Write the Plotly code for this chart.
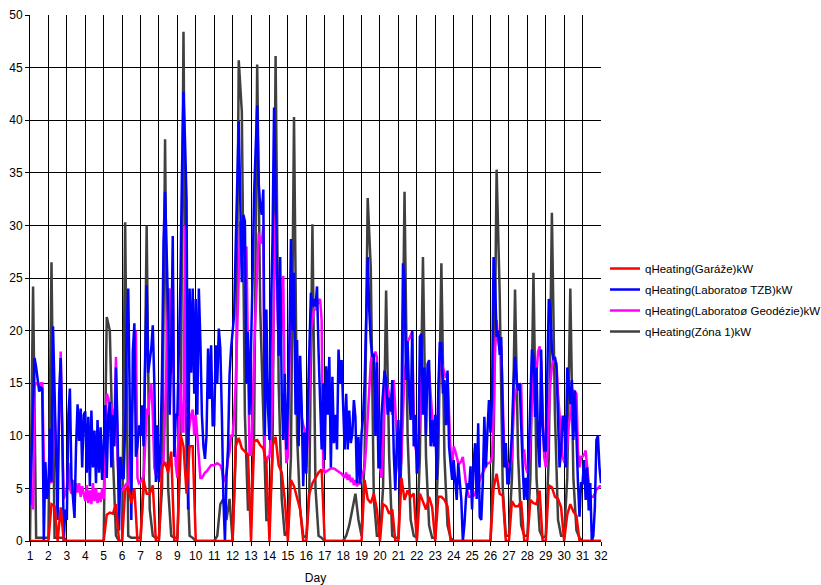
import plotly.graph_objects as go

# Garáže and Zóna 1: samples every 4 hours (6 per day), day 1.0 .. 32.0
garaze = [
    0, 0, 0, 0, 0, 0,                 # d1
    0, 3.5, 3.3, 0, 3.2, 0,           # d2
    0, 0, 0, 0, 0, 0,                 # d3
    0, 0, 0, 0, 0, 0,                 # d4
    0, 2.5, 2.7, 2.6, 3.5, 0,         # d5
    0, 4.8, 5.2, 3.6, 5, 0,           # d6
    0, 5.8, 4.5, 4.5, 5.3, 0,         # d7
    0, 7, 7.5, 6.5, 8.5, 0,           # d8
    0, 10.2, 9, 4.5, 9, 9,            # d9
    0, 0, 0, 0, 0, 0,                 # d10
    0, 0, 0, 0, 0, 0,                 # d11
    0, 9, 9.8, 8.8, 8.5, 8.2,         # d12
    0, 9.5, 9.6, 9.1, 8.8, 7.4,       # d13
    0, 9, 9.9, 7.2, 6.5, 3.9,         # d14
    0, 5.8, 5.2, 4.1, 3, 0,           # d15
    0, 4.5, 5.5, 6, 6.5, 6.8,         # d16
    0, 0, 0, 0, 0, 0,                 # d17
    0, 0, 0, 0, 0, 0,                 # d18
    0, 5.8, 4, 3.6, 4.5, 3,           # d19
    0, 3.5, 3.3, 2.6, 3, 0,           # d20
    0, 6, 3.9, 4.8, 4.2, 4.5,         # d21
    0, 4.5, 3.8, 3, 4.2, 3.2,         # d22
    0, 4.2, 4.2, 3.9, 3.3, 0,         # d23
    0, 0, 0, 0, 0, 0,                 # d24
    0, 0, 0, 0, 0, 0,                 # d25
    0, 5, 6.4, 4.5, 4.3, 0,           # d26
    0, 3.8, 3.3, 3.3, 3.8, 0,         # d27
    0, 3.9, 3.6, 3.5, 4.8, 0,         # d28
    0, 5.3, 5.1, 4.2, 4, 3.2,         # d29
    0, 2.5, 3.5, 2.8, 2.4, 0,         # d30
    0, 0, 0, 0, 0, 0,                 # d31
    0,                                # d32
]

zona1 = [
    0, 24.2, 0.3, 0.3, 0.3, 0.3,      # d1
    0.3, 26.5, 0.3, 0.3, 0.3, 0.3,    # d2
    0, 0, 0, 0, 0, 0,                 # d3
    0, 0, 0, 0, 0, 0,                 # d4
    0, 21.3, 20, 8, 0.5, 0,           # d5
    0, 30.3, 0.5, 0.3, 0.3, 0.3,      # d6
    0.3, 5, 30, 3, 0.5, 0.3,          # d7
    0.3, 5, 38.2, 5, 0.5, 0.3,        # d8
    0.3, 8, 48.4, 8, 0.5, 0.3,        # d9
    0, 0, 0, 0, 0, 0,                 # d10
    0, 0.5, 3.5, 4, 2, 4,             # d11
    0, 8, 45.7, 40.8, 12, 3,          # d12
    3, 10, 45.3, 22, 12, 2,           # d13
    2, 8, 46.1, 15, 4, 0.5,           # d14
    1, 8, 40.3, 10, 3, 0.5,           # d15
    0.3, 5, 30.1, 5, 0.5, 0.3,        # d16
    0, 0, 0, 0, 0, 0,                 # d17
    0, 0.5, 1.5, 3, 4.5, 2,           # d18
    0.5, 8, 32.6, 26, 4, 0.5,         # d19
    0.5, 5, 23.8, 8, 0.5, 0.3,        # d20
    0.3, 8, 33.2, 10, 2, 0.5,         # d21
    0.3, 8, 27, 8, 1.5, 0.3,          # d22
    0.3, 8, 26.4, 8, 1.5, 0.3,        # d23
    0, 0, 0, 0, 0, 0,                 # d24
    0, 0, 0, 0, 0, 0,                 # d25
    0, 8, 35.3, 23.5, 5, 0.5,         # d26
    0.5, 6, 23.9, 8, 1.5, 0.5,        # d27
    0.5, 6, 25.5, 6, 1, 0.3,          # d28
    0.5, 8, 31.2, 12, 2, 0.5,         # d29
    0.5, 6, 24, 6, 1, 0.3,            # d30
    0, 0, 0, 0, 0, 0,                 # d31
    0,                                # d32
]

# Laboratoø TZB and Geodézie: samples every 2 hours (12 per day)
tzb = [
    3.4, 8, 14, 17.4, 16.5, 15.4, 14.2, 14.6, 14.5, 0, 7.5, 4,           # d1
    5, 10.7, 5.6, 20.4, 14, 7, 2, 14, 17.4, 11, 0, 3,                    # d2
    2, 12, 14.5, 6, 4, 2.2, 9, 13, 9.5, 12.6, 7, 12,                     # d3
    12.3, 6.5, 11.8, 5.2, 12.4, 7, 10.5, 5.5, 11.5, 6.5, 10.8, 5.8,      # d4
    9, 12.9, 6, 12, 13.2, 7, 12, 9, 16.5, 11, 1, 8,                      # d5
    6, 5.9, 11, 20, 24, 14.7, 2, 18, 20.7, 8, 9, 11,                     # d6
    10, 12.9, 9, 16.7, 24.3, 16, 17, 18.3, 20.5, 15, 5.6, 11,            # d7
    5.6, 9, 15.8, 28.5, 33.2, 28, 22, 12, 18, 29, 8, 12,                 # d8
    12, 18.3, 24.6, 35, 42.7, 38, 32.4, 3, 24, 16, 24, 14,               # d9
    23, 12, 24, 19, 12, 9, 7.8, 10, 18.3, 13.5, 18.6, 11,                # d10
    11, 18.6, 15, 20.2, 18.3, 12, 4, 0, 6, 8.8, 15.8, 18.3,              # d11
    20, 21.5, 28, 35, 39.9, 32.3, 24.6, 31, 30.4, 15, 19.9, 12,          # d12
    18, 25, 33, 38, 41.4, 34, 31.8, 31, 33.4, 10, 22, 12.8,              # d13
    9.6, 22.3, 28.7, 41.2, 33, 25, 17.6, 27, 14, 9.6, 15.9, 8.7,         # d14
    12.8, 19.1, 28.7, 20, 25.5, 12, 19.1, 9, 17.6, 12.8, 5.2, 10.3,      # d15
    6.4, 12.8, 19.8, 23.6, 22.3, 23, 22.3, 24.2, 18, 13.4, 8.7, 15,      # d16
    7.7, 16.6, 12, 17.5, 7, 15.6, 9.3, 12, 8.7, 18.2, 15, 17.2,          # d17
    12.4, 8.7, 14, 8.7, 12.4, 9.3, 10.2, 13.4, 11.8, 5.5, 9.9, 5.5,      # d18
    10.2, 11.8, 15, 20, 27, 22, 19, 17.5, 17.8, 10, 17, 7,               # d19
    7, 12, 14, 16.2, 15.3, 12, 13.6, 12.3, 15.3, 8.3, 4.8, 9.5,          # d20
    11.5, 4.2, 12, 26.4, 24.8, 15.3, 19, 14, 11.5, 20, 9, 12,            # d21
    6.4, 7.3, 19.4, 19.7, 12, 16.5, 10, 16.8, 17.2, 9, 11.5, 9,          # d22
    12, 5.8, 14.3, 18.8, 18.8, 14, 15.3, 11, 16.2, 9, 7.4, 5.8,          # d23
    7.7, 5.5, 3.9, 7.4, 5.5, 3.9, 0, 1.5, 4, 5.5, 4.9, 7.1,              # d24
    3, 7.4, 9.3, 4, 11.2, 2.3, 2, 5.5, 11.8, 7, 10.3, 13.4,              # d25
    10.3, 13.4, 27, 24.5, 19.4, 20, 17.7, 19.4, 11.8, 7, 9.3, 5.5,       # d26
    5.5, 8, 10.3, 15, 17.5, 15.3, 14.3, 15, 9.9, 7, 3.9, 6,              # d27
    3.9, 8.6, 15, 18.2, 17.5, 11.8, 16.5, 9.3, 7, 18.2, 11, 8.6,         # d28
    8.6, 15, 23, 22.3, 18.2, 17.2, 17.5, 16.5, 11.8, 7, 8.6, 11.8,       # d29
    11.8, 7, 16.5, 14.3, 13, 15.3, 9.6, 14.3, 8.7, 5.5, 2.3, 5.5,        # d30
    5.5, 7.7, 3.9, 7, 2.9, 5.5, 0, 0.5, 3.2, 9.6, 10, 7,                 # d31
    5.5,                                                                 # d32
]

geodezie = [
    6.2, 3.5, 3, 14.7, 15, 15, 14.8, 15, 15, 8, 5.2, 4.5,                # d1
    5, 6, 5.5, 16.2, 12.5, 8, 6, 12, 18, 10, 4, 4.5,                     # d2
    5, 7.4, 5, 4.5, 5.8, 4, 5.5, 4.6, 5.5, 4.2, 5.2, 4.5,                # d3
    3.8, 5.3, 3.6, 4.8, 3.5, 5.5, 3.8, 5, 3.6, 4.6, 3.7, 5,              # d4
    4, 10, 14, 13.6, 13, 12.9, 12, 11.3, 17.5, 8, 5, 4.8,                # d5
    4.8, 5, 5.2, 5.5, 5.2, 8, 12, 14, 18, 20, 6, 5.5,                    # d6
    5.6, 6, 6.2, 9, 12.6, 12, 14, 15, 12, 7, 6.3, 6,                     # d7
    6, 6.2, 7, 7.5, 12, 18, 23.7, 24, 16, 26, 10, 7.2,                   # d8
    6, 12, 15, 10.4, 10.4, 30, 14, 10, 11, 12, 12.5, 10,                 # d9
    12, 10, 7.2, 6, 6, 6.3, 6.5, 6.6, 6.8, 7, 7.2, 7.2,                  # d10
    7.2, 7.3, 7.4, 7.3, 7.2, 6.8, 5.6, 6, 6.5, 7.8, 8.5, 10,             # d11
    10, 12, 15, 20, 25, 30.4, 28, 26.5, 27, 28, 18, 8.2,                 # d12
    8.2, 12, 18, 22, 26, 29.3, 28.5, 28.3, 30, 8, 7.4, 8,                # d13
    8, 10, 15, 24, 31.2, 25, 18, 17.6, 22, 25.2, 12, 7.4,                # d14
    8, 15, 24.9, 22.3, 20, 18, 17.6, 15, 13, 11.8, 11, 10.6,             # d15
    7, 10, 14, 20, 21, 22, 22, 22.5, 22.8, 23, 21, 7,                    # d16
    6.5, 6.6, 6.7, 6.8, 6.9, 6.9, 6.9, 6.8, 6.7, 6.6, 6.5, 6.4,          # d17
    6.2, 6, 6.5, 5.8, 6.3, 5.6, 6, 5.3, 5.8, 5.2, 5.6, 5.5,              # d18
    6, 6.5, 7, 9, 12, 14, 17, 17.8, 17.5, 18, 17.5, 10,                  # d19
    7, 6, 9, 15.3, 15, 14.5, 14, 13, 12, 15.3, 12, 8.7,                  # d20
    7, 6, 8, 12, 16, 17, 19, 19.2, 19.5, 19.9, 12, 9,                    # d21
    8.3, 8.7, 12, 15.3, 16.5, 15, 13.6, 15, 16.2, 14, 12, 10,            # d22
    9, 10, 13, 17.8, 17, 16.5, 16, 15.5, 15.9, 12, 8.5, 7,               # d23
    9, 8.6, 8, 7.4, 7.4, 7.6, 8, 6.5, 5.5, 4.8, 4.2, 4.2,                # d24
    4.2, 4.3, 4.5, 5, 5.5, 5.8, 6.2, 6.5, 6.8, 7, 7.4, 7.4,              # d25
    7.5, 8, 12, 18, 21, 19, 18.2, 18.5, 12, 8.6, 7, 7.5,                 # d26
    7, 7, 8, 12, 14, 14.5, 14.7, 14.8, 15, 8.6, 8.6, 7,                  # d27
    6.5, 7, 10, 14, 16.3, 15, 16, 18, 18.5, 17, 11.8, 8,                 # d28
    7, 8, 12, 15, 16.5, 17.5, 17.2, 16.9, 14, 11.8, 9.3, 8,              # d29
    7.5, 7.5, 9, 11, 12, 13, 14.3, 14.2, 14, 8.6, 7, 8,                  # d30
    8, 8.2, 8.6, 7, 5.5, 4.2, 4.2, 4.2, 4.5, 4.9, 5, 5.2,                # d31
    5.2,                                                                 # d32
]

day_4h = [1 + i / 6 for i in range(len(zona1))]
day_2h = [1 + i / 12 for i in range(len(tzb))]

# drawing order (bottom to top); legend position given by rank
series = [
    ("qHeating(Zóna 1)kW", day_4h, zona1, "#404040", 4),
    ("qHeating(Laboratoø Geodézie)kW", day_2h, geodezie, "#FF00FF", 3),
    ("qHeating(Laboratoø TZB)kW", day_2h, tzb, "#0000FF", 2),
    ("qHeating(Garáže)kW", day_4h, garaze, "#FF0000", 1),
]

fig = go.Figure()
for name, xs, vals, col, rank in series:
    fig.add_trace(go.Scatter(x=xs, y=vals, name=name, mode="lines",
                             legendgroup=name, legendrank=rank,
                             line=dict(color=col, width=2.5)))

axis_common = dict(showgrid=True, gridcolor="black", gridwidth=1,
                   showline=True, linecolor="black", linewidth=1,
                   ticks="outside", ticklen=4, tickcolor="black",
                   zeroline=False, layer="below traces", automargin=False,
                   tickfont=dict(size=12, color="black"))

fig.update_layout(
    width=821, height=585,
    margin=dict(l=30, r=220, t=15, b=44, autoexpand=False),
    paper_bgcolor="white", plot_bgcolor="white",
    font=dict(family="Liberation Sans, Arial, sans-serif", size=12, color="black"),
    xaxis=dict(range=[1, 32], tick0=1, dtick=1,
               title=dict(text="Day", standoff=14, font=dict(size=12)),
               **axis_common),
    yaxis=dict(range=[0, 50], tick0=0, dtick=5, **axis_common),
    legend=dict(x=1.007, y=0.5456, xanchor="left", yanchor="top",
                traceorder="grouped", tracegroupgap=2,
                bgcolor="rgba(0,0,0,0)",
                font=dict(size=11.5, color="black")),
    showlegend=True,
)

fig.write_html("out.html")
